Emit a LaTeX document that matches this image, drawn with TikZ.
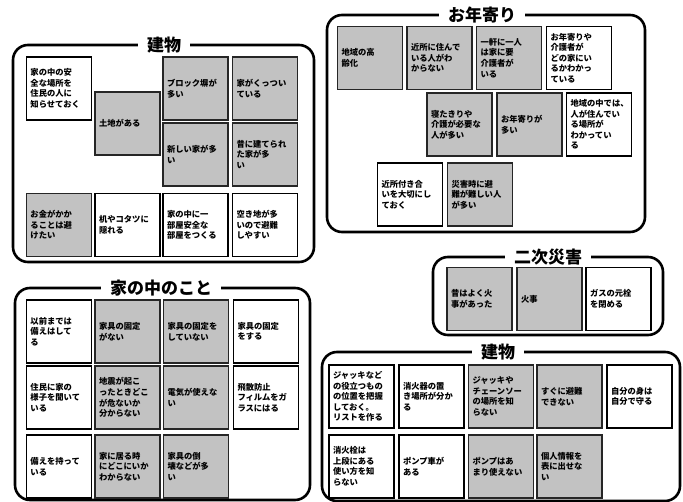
\documentclass[tikz,border=0pt]{standalone}
\usepackage{fontspec}
\setmainfont{Noto Sans CJK JP}
\begin{document}
\begin{tikzpicture}[x=1pt,y=-1pt,
  frame/.style={draw=black, line width=2.6pt, rounded corners=15pt},
  ttl/.style={fill=white, inner xsep=9pt, inner ysep=1pt, font=\fontsize{17}{17}\selectfont\bfseries},
  wnote/.style={draw=black, line width=1.1pt, fill=white, minimum width=65pt, minimum height=63pt, inner sep=0pt, text width=57pt, align=left, font=\fontsize{8.3}{10.6}\selectfont\bfseries},
  gnote/.style={wnote, fill=black!24, draw=black!85, line width=1.9pt}]
\fill[white] (0,0) rectangle (683,502);
\useasboundingbox (0,0) rectangle (683,502);
% ---------- frame 1: 建物 (top left)
\draw[frame] (13,45) rectangle (314,262);
\node[ttl] (t1) at (164,45) {建物};
\node[wnote] (a1) at (59,88.5) {家の中の安\\全な場所を\\住民の人に\\知らせておく};
\node[gnote] (a2) at (127.5,123.5) {土地がある};
\node[gnote] (a3) at (195.5,88.5) {ブロック塀が\\多い};
\node[gnote] (a4) at (265,88.5) {家がくっつい\\ている};
\node[gnote] (a5) at (195.5,154.5) {新しい家が多\\い};
\node[gnote] (a6) at (265,154.5) {昔に建てられ\\た家が多\\い};
\node[gnote] (a7) at (59,225) {お金がかか\\ることは避\\けたい};
\node[wnote] (a8) at (127.5,225) {机やコタツに\\隠れる};
\node[wnote] (a9) at (195.5,225) {家の中に一\\部屋安全な\\部屋をつくる};
\node[wnote] (a10) at (265,225) {空き地が多\\いので避難\\しやすい};
% ---------- frame 2: お年寄り
\draw[frame] (327,15) rectangle (645,232);
\node[ttl] (t2) at (482,15) {お年寄り};
\node[gnote] (b1) at (370,58) {地域の高\\齢化};
\node[gnote] (b2) at (439.5,58) {近所に住んで\\いる人がわ\\からない};
\node[gnote] (b3) at (509,58) {一軒に一人\\は家に要\\介護者が\\いる};
\node[wnote] (b4) at (579,58) {お年寄りや\\介護者が\\どの家にい\\るかわかっ\\ている};
\node[gnote] (b5) at (459.5,124.5) {寝たきりや\\介護が必要な\\人が多い};
\node[gnote] (b6) at (529.5,124.5) {お年寄りが\\多い};
\node[wnote] (b7) at (599,124.5) {地域の中では、\\人が住んでい\\る場所が\\わかってい\\る};
\node[wnote] (b8) at (410,194.5) {近所付き合\\いを大切にし\\ておく};
\node[gnote] (b9) at (480,194.5) {災害時に避\\難が難しい人\\が多い};
% ---------- frame 3: 二次災害
\draw[frame] (433,257) rectangle (663,335);
\node[ttl] (t3) at (548,257) {二次災害};
\node[gnote] (c1) at (479.5,299) {昔はよく火\\事があった};
\node[gnote] (c2) at (549.5,299) {火事};
\node[wnote] (c3) at (618.5,299) {ガスの元栓\\を閉める};
% ---------- frame 4: 家の中のこと
\draw[frame] (15,288) rectangle (310,500);
\node[ttl] (t4) at (161,288) {家の中のこと};
\node[wnote] (d1) at (59,331.5) {以前までは\\備えはして\\る};
\node[gnote] (d2) at (127.5,331.5) {家具の固定\\がない};
\node[gnote] (d3) at (196,331.5) {家具の固定を\\していない};
\node[wnote] (d4) at (266,331.5) {家具の固定\\をする};
\node[wnote] (d5) at (59,397.5) {住民に家の\\様子を聞いて\\いる};
\node[gnote] (d6) at (127.5,397.5) {地震が起こ\\ったときどこ\\が危ないか\\分からない};
\node[gnote] (d7) at (196,397.5) {電気が使えな\\い};
\node[wnote] (d8) at (266,397.5) {飛散防止\\フィルムをガ\\ラスにはる};
\node[wnote] (d9) at (59,466.5) {備えを持って\\いる};
\node[gnote] (d10) at (127.5,466.5) {家に居る時\\にどこにいか\\わからない};
\node[gnote] (d11) at (196,466.5) {家具の倒\\壊などが多\\い};
% ---------- frame 5: 建物 (bottom right)
\draw[frame] (322,352) rectangle (680,501);
\node[ttl] (t5) at (498,352) {建物};
\node[wnote] (e1) at (361.5,396.5) {ジャッキなど\\の役立つもの\\の位置を把握\\しておく。\\リストを作る};
\node[wnote] (e2) at (431.5,396.5) {消火器の置\\き場所が分か\\る};
\node[gnote] (e3) at (501,396.5) {ジャッキや\\チェーンソー\\の場所を知\\らない};
\node[gnote] (e4) at (569.5,396.5) {すぐに避難\\できない};
\node[wnote] (e5) at (639.5,396.5) {自分の身は\\自分で守る};
\node[wnote] (e6) at (361.5,466.5) {消火栓は\\上段にある\\使い方を知\\らない};
\node[wnote] (e7) at (431.5,466.5) {ポンプ車が\\ある};
\node[gnote] (e8) at (501,466.5) {ポンプはあ\\まり使えない};
\node[gnote] (e9) at (569.5,466.5) {個人情報を\\表に出せな\\い};
\end{tikzpicture}
\end{document}
